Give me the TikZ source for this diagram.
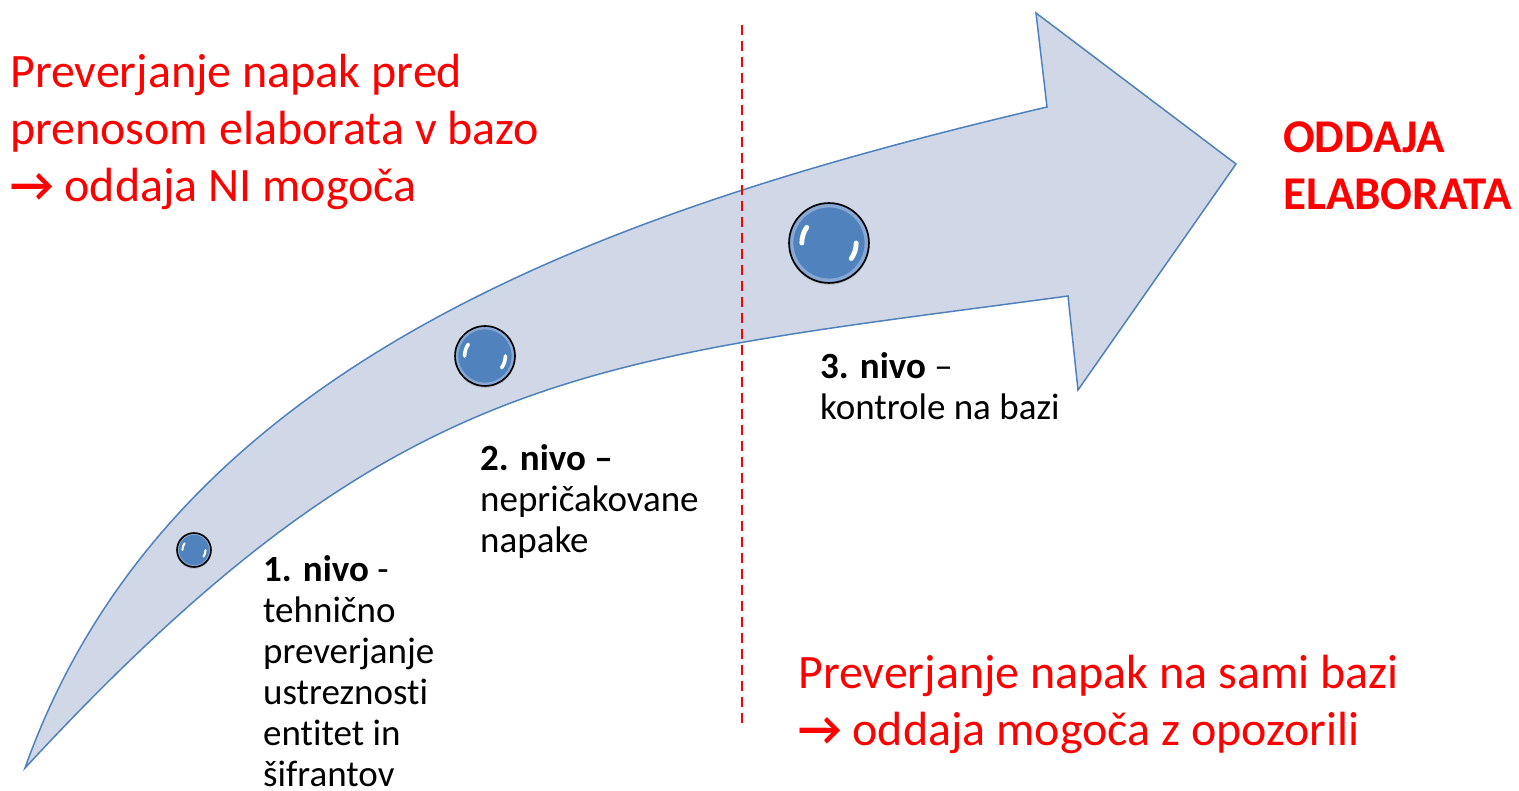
\documentclass[tikz,border=0pt]{standalone}
\usepackage{fontspec}
\setmainfont{Carlito}[Ligatures=NoCommon]
\newfontfamily\arrowfont{Carlito}
\usetikzlibrary{shadows}
\definecolor{arrowfill}{RGB}{208,216,232}
\definecolor{arrowline}{RGB}{79,129,189}
\definecolor{ballblue}{RGB}{80,130,190}
\definecolor{ballrim}{RGB}{150,178,214}
\tikzset{
	redtext/.style={text=red, inner sep=0pt, align=left, font=\fontsize{48}{57}\selectfont},
	leveltext/.style={text=black, inner sep=0pt, align=left, font=\fontsize{37}{41}\selectfont},
	bubble/.style={circle, draw=black, line width=1.6pt, minimum size=2*#1 pt, inner sep=0pt,
		fill=ballblue,
		drop shadow={opacity=0.25, shadow xshift=0pt, shadow yshift=-2pt},
		path picture={
			\draw[ballrim, line width=0.08*#1 pt, opacity=0.8]
				(path picture bounding box.center) circle (0.93*#1 pt);
			\draw[white, line width=0.12*#1 pt, line cap=round]
				([shift={(145:0.68*#1 pt)}]path picture bounding box.center) arc (145:180:0.68*#1 pt);
			\draw[white, line width=0.12*#1 pt, line cap=round]
				([shift={(-35:0.68*#1 pt)}]path picture bounding box.center) arc (-35:0:0.68*#1 pt);
		}},
}
\begin{document}
\begin{tikzpicture}[x=1pt,y=-1pt]
	\path[fill=white, use as bounding box] (0,0) rectangle (1519,791);

	% curved arrow
	\draw[arrowline, fill=arrowfill, line width=1.5pt, line join=miter]
		(25,768) .. controls (169,363) and (604,211) .. (1047,107) -- (1036,13) -- (1236,164)
		-- (1078,390) -- (1068,296) .. controls (587,361) and (400,363) .. cycle;

	% border between the two phases
	\coordinate (cuttop) at (742,25);
	\coordinate (cutbottom) at (742,727);
	\draw[red, line width=2pt, dash pattern=on 10pt off 6pt] (cuttop) -- (cutbottom);

	\node[bubble=17] (ball1) at (194,550) {};
	\node[bubble=30] (ball2) at (485,356) {};
	\node[bubble=40] (ball3) at (829,243) {};

	% base anchor sits on the last line
	\node[redtext, anchor=base west] (beforebase) at (10,202)
		{Preverjanje napak pred\\prenosom elaborata v bazo\\{\arrowfont\bfseries →} oddaja NI mogoča};
	\node[redtext, anchor=base west, font=\fontsize{47}{57}\selectfont\bfseries] (submit) at (1283,210)
		{ODDAJA\\ELABORATA};
	\node[redtext, anchor=base west] (onbase) at (798,745)
		{Preverjanje napak na sami bazi\\{\arrowfont\bfseries →} oddaja mogoča z opozorili};

	\node[leveltext, anchor=base west] (level1) at (263,786)
		{\textbf{1. nivo} -\\tehnično\\preverjanje\\ustreznosti\\entitet in\\šifrantov};
	\node[leveltext, anchor=base west] (level2) at (480,552)
		{\textbf{2. nivo –}\\nepričakovane\\napake};
	\node[leveltext, anchor=base west] (level3) at (820,420)
		{\textbf{3. nivo} –\\kontrole na bazi};
\end{tikzpicture}
\end{document}
